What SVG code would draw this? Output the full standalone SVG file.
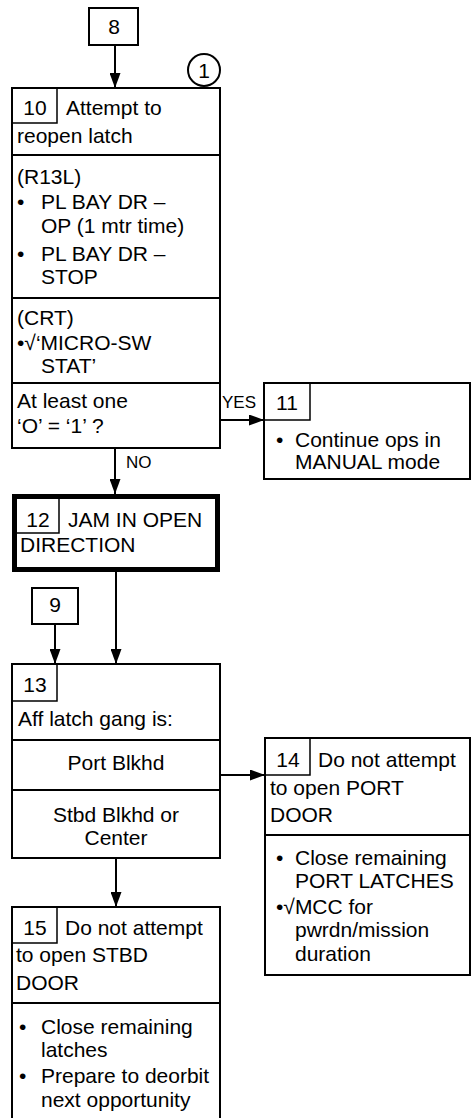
<svg xmlns="http://www.w3.org/2000/svg" width="472" height="1118" viewBox="0 0 472 1118">
<style>
text{font-family:"Liberation Sans",Arial,sans-serif;font-size:21px;fill:#000}
.c{text-anchor:middle}
.lbl{font-size:17px}
.box{fill:#fff;stroke:#000;stroke-width:2}
.thick{fill:#fff;stroke:#000;stroke-width:5}
.nb{fill:none;stroke:#000;stroke-width:1.5}
.div{fill:none;stroke:#000;stroke-width:2}
.con{fill:none;stroke:#000;stroke-width:2;marker-end:url(#ah)}
</style>
<defs>
<marker id="ah" markerUnits="userSpaceOnUse" markerWidth="16" markerHeight="11" refX="15" refY="5.5" orient="auto">
<path d="M0,0 L15,5.5 L0,11 z" fill="#000"/>
</marker>
</defs>
<rect width="472" height="1118" fill="#fff"/>
<g id="connectors">
<path class="con" d="M115,45 V88"/>
<path class="con" d="M220,420 H264"/>
<path class="con" d="M115,448 V494"/>
<path class="con" d="M116,572 V664"/>
<path class="con" d="M55,624 V664"/>
<path class="con" d="M220,775 H265"/>
<path class="con" d="M116,858 V907"/>
<text class="lbl" x="222" y="408">YES</text>
<text class="lbl" x="126" y="468">NO</text>
</g>
<g id="n8">
<rect class="box" x="89" y="8" width="49" height="37"/>
<text class="c" x="114" y="34">8</text>
</g>
<g id="circle1">
<circle cx="204" cy="70" r="16" fill="#fff" stroke="#000" stroke-width="2"/>
<text class="c" x="204" y="78">1</text>
</g>
<g id="n10">
<rect class="box" x="12" y="88" width="208" height="360"/>
<path class="nb" d="M57,88 V123 H12"/>
<text class="c" x="35" y="115">10</text>
<text x="66" y="115">Attempt to</text>
<text x="17" y="143">reopen latch</text>
<path class="div" d="M12,155 H220"/>
<text x="17" y="184">(R13L)</text>
<text x="17" y="209">•</text>
<text x="41" y="209">PL BAY DR –</text>
<text x="41" y="233">OP (1 mtr time)</text>
<text x="17" y="261">•</text>
<text x="41" y="261">PL BAY DR –</text>
<text x="41" y="284">STOP</text>
<path class="div" d="M12,298 H220"/>
<text x="17" y="325">(CRT)</text>
<text x="17" y="350">•√‘MICRO-SW</text>
<text x="41" y="373">STAT’</text>
<path class="div" d="M12,383 H220"/>
<text x="17" y="408">At least one</text>
<text x="17" y="433">‘O’ = ‘1’ ?</text>
</g>
<g id="n11">
<rect class="box" x="264" y="383" width="206" height="96"/>
<path class="nb" d="M310,383 V420 H264"/>
<text class="c" x="287" y="410">11</text>
<text x="276" y="447">•</text>
<text x="295" y="447">Continue ops in</text>
<text x="295" y="469">MANUAL mode</text>
</g>
<g id="n12">
<rect class="thick" x="14.5" y="496.5" width="203" height="73"/>
<path class="nb" d="M59,498 V533 H16"/>
<text class="c" x="38" y="527">12</text>
<text x="68" y="527">JAM IN OPEN</text>
<text x="20" y="552">DIRECTION</text>
</g>
<g id="n9">
<rect class="box" x="32" y="588" width="46" height="36"/>
<text class="c" x="55" y="612">9</text>
</g>
<g id="n13">
<rect class="box" x="12" y="664" width="208" height="194"/>
<path class="nb" d="M57,664 V701 H12"/>
<text class="c" x="35" y="692">13</text>
<text x="18" y="726">Aff latch gang is:</text>
<path class="div" d="M12,740 H220"/>
<text class="c" x="116" y="770">Port Blkhd</text>
<path class="div" d="M12,790 H220"/>
<text class="c" x="116" y="822">Stbd Blkhd or</text>
<text class="c" x="116" y="845">Center</text>
</g>
<g id="n14">
<rect class="box" x="265" y="738" width="205" height="237"/>
<path class="nb" d="M310,738 V775 H265"/>
<text class="c" x="288" y="767">14</text>
<text x="318" y="767">Do not attempt</text>
<text x="270" y="795">to open PORT</text>
<text x="270" y="822">DOOR</text>
<path class="div" d="M265,835 H470"/>
<text x="276" y="865">•</text>
<text x="295" y="865">Close remaining</text>
<text x="295" y="888">PORT LATCHES</text>
<text x="276" y="914">•√MCC for</text>
<text x="295" y="937">pwrdn/mission</text>
<text x="295" y="961">duration</text>
</g>
<g id="n15">
<rect class="box" x="12" y="907" width="208" height="220"/>
<path class="nb" d="M57,907 V943 H12"/>
<text class="c" x="35" y="935">15</text>
<text x="65" y="935">Do not attempt</text>
<text x="16" y="962">to open STBD</text>
<text x="16" y="990">DOOR</text>
<path class="div" d="M12,1003 H220"/>
<text x="19" y="1034">•</text>
<text x="41" y="1034">Close remaining</text>
<text x="41" y="1057">latches</text>
<text x="19" y="1083">•</text>
<text x="41" y="1083">Prepare to deorbit</text>
<text x="41" y="1107">next opportunity</text>
</g>
</svg>
